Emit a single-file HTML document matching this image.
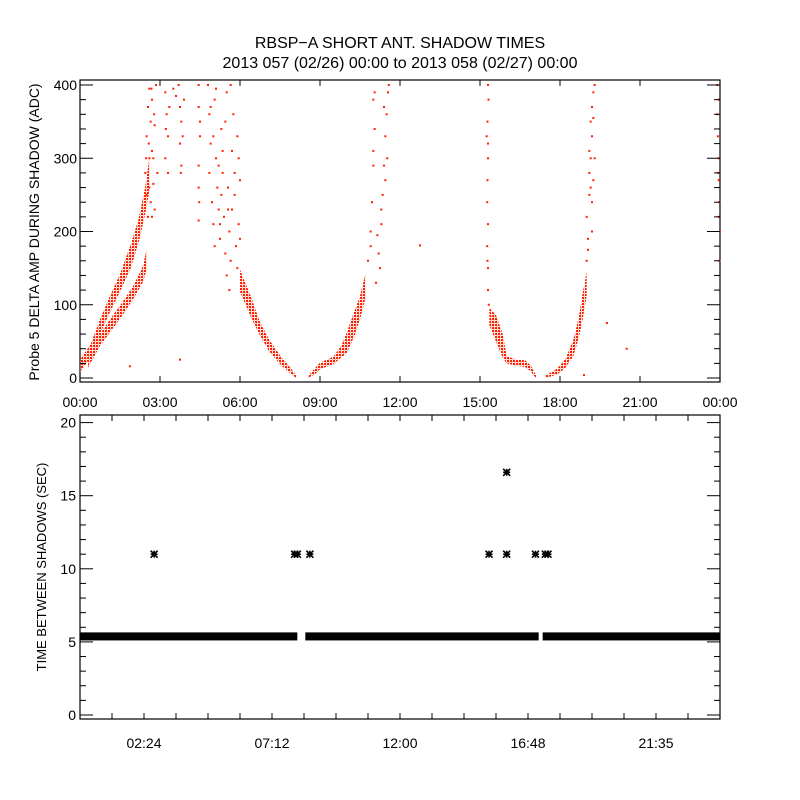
<!DOCTYPE html>
<html><head><meta charset="utf-8"><style>
html,body{margin:0;padding:0;background:#fff;}
svg{display:block;font-family:"Liberation Sans",sans-serif;}
text{fill:#000;}
</style></head><body>
<svg id="chart" width="800" height="800" viewBox="0 0 800 800">
<defs>
<pattern id="dots" width="3" height="3" patternUnits="userSpaceOnUse"><rect x="0" y="0" width="2" height="2" fill="#ff2000"/><rect x="1.5" y="1.5" width="1" height="1" fill="#ff2000"/></pattern>
</defs>
<g>
<text x="400" y="48" font-size="16" text-anchor="middle">RBSP−A SHORT ANT. SHADOW TIMES</text>
<text x="400" y="68" font-size="16" text-anchor="middle">2013 057 (02/26) 00:00 to 2013 058 (02/27) 00:00</text>
</g>
<g id="topPanel"></g>
<g id="botPanel"></g>
</svg>
<script>
// ---- top panel data (hours, ADC) ----
const bandUpper=[[0,8,25],[0.4,28,46],[0.75,60,80],[1.1,88,110],[1.5,118,142],[1.9,150,182],[2.2,185,218],[2.45,225,262],[2.6,255,300]];
const bandLower=[[0.3,14,28],[0.75,44,60],[1.2,66,84],[1.6,86,104],[2.0,108,126],[2.35,130,152],[2.5,148,176]];
const bandDesc=[[6.0,118,148],[6.4,84,112],[6.75,58,76],[7.1,36,52],[7.5,19,31],[7.8,9,18],[8.1,0,4]];
const bandRise=[[8.55,0,3],[8.8,5,13],[9.0,12,21],[9.5,19,29],[9.8,28,44],[10.0,34,62],[10.3,58,92],[10.5,80,112],[10.7,108,142]];
const bandRight=[[15.35,72,96],[15.6,50,86],[15.85,28,60],[16.0,20,30],[16.3,17,26],[16.7,15,24],[16.9,9,17],[17.1,0,4]];
const bandRight2=[[17.45,0,3],[17.9,5,13],[18.2,14,26],[18.5,30,52],[18.7,54,82],[18.85,80,116],[19.0,112,145]];
const scatterT=[2.45,2.5,2.55,2.6,2.65,2.7,2.75,2.8,2.5,2.6,2.7,2.85,2.55,2.65,2.75,2.8,2.9,2.6,2.7,2.58,2.48,2.68,2.78,
3.2,3.25,3.3,3.3,3.2,3.35,3.5,3.6,3.75,3.8,3.75,3.8,3.9,3.7,3.85,3.78,3.22,
4.45,4.45,4.5,4.45,4.45,4.45,4.5,4.47,
4.8,4.85,4.9,4.85,4.95,5.0,5.05,5.1,5.15,5.2,5.25,5.3,5.35,5.4,5.45,5.5,5.55,5.6,5.65,5.7,5.75,5.8,5.85,5.9,5.95,5.95,6.0,5.0,5.2,5.45,5.6,5.05,4.9,5.3,5.7,5.9,6.0,5.1,5.35,5.55,5.8,5.65,5.25,5.5,
10.8,10.9,10.95,11.0,11.05,11.05,11.0,11.1,11.2,11.3,11.35,11.4,11.45,11.5,11.55,11.58,11.25,11.3,11.45,10.9,11.0,11.15,11.4,11.52,
15.3,15.32,15.28,15.3,15.3,15.28,15.27,15.3,15.27,15.3,15.3,15.33,15.25,15.28,
19.0,19.05,19.0,19.1,19.1,19.15,19.2,19.15,19.2,19.25,19.3,19.2,19.25,19.2,19.3,19.1,19.25,19.05,19.15,
23.9,23.9,23.92,23.95,23.95,23.97,23.95,24,23.98,23.93,23.95,
12.75,19.76,20.5,18.9,3.75,1.87];
const scatterV=[280,330,370,395,350,310,265,230,250,300,380,400,220,240,300,345,280,260,220,320,300,395,360,
390,360,330,280,300,370,395,385,370,350,320,290,380,400,330,280,340,
400,370,330,290,260,215,350,240,
400,360,320,280,240,210,380,300,260,230,190,340,280,220,170,140,260,200,400,310,360,250,180,150,300,210,270,330,290,350,120,180,370,250,230,330,190,395,310,230,280,160,210,390,
160,200,240,290,340,390,380,130,170,210,250,290,330,360,390,400,150,230,270,180,310,195,370,300,
400,380,350,320,300,270,240,210,180,150,120,100,330,160,
160,190,220,250,280,300,330,350,370,390,400,240,270,200,300,310,355,175,260,
400,360,330,300,270,240,220,200,160,280,380,
181,75,40,4,25,16];
const topXTicks=[0,3,6,9,12,15,18,21,24];
const topXLabels=["00:00","03:00","06:00","09:00","12:00","15:00","18:00","21:00","00:00"];
const topYTicks=[0,100,200,300,400];
// ---- bottom panel data (hours, seconds) ----
const bandSegStart=[0,8.45,17.35];
const bandSegEnd=[8.15,17.2,24];
const bandValue=[5.4,5.4,5.4];
const starT=[2.78,8.05,8.15,8.62,15.34,16.0,16.0,17.08,17.45,17.55];
const starV=[11.0,11.0,11.0,11.0,11.0,16.6,11.0,11.0,11.0,11.0];
const botXLabelPos=[2.4,7.2,12,16.8,21.6];
const botXLabels=["02:24","07:12","12:00","16:48","21:35"];
const botYTicks=[0,5,10,15,20];

const NS="http://www.w3.org/2000/svg";
function mk(p,tag,at){const e=document.createElementNS(NS,tag);for(const k in at)e.setAttribute(k,at[k]);p.appendChild(e);return e;}
const X0=80,X1=720;
const xs=h=>X0+h*(X1-X0)/24;
const ty=v=>378-v*0.7325;
const by=v=>715-v*14.62;
const topG=document.getElementById('topPanel'),botG=document.getElementById('botPanel');

// top frame
let f=mk(topG,'rect',{x:80,y:80,width:640,height:302,fill:'none',stroke:'#000','stroke-width':1.2});


function band(arr,name){
  let pts=arr.map(d=>xs(d[0])+','+ty(d[2]));
  pts=pts.concat(arr.slice().reverse().map(d=>xs(d[0])+','+ty(d[1])));
  const p=mk(topG,'polygon',{points:pts.join(' '),fill:'url(#dots)'});
  
  
}
band(bandUpper,'band-upper-rise');band(bandLower,'band-lower-rise');band(bandDesc,'band-descent');
band(bandRise,'band-rise-0900');band(bandRight,'band-1500');band(bandRight2,'band-1800');
const nPts=Math.min(scatterT.length,scatterV.length);
for(let i=0;i<nPts;i++){
  const r=mk(topG,'rect',{x:xs(scatterT[i])-1,y:ty(scatterV[i])-1,width:2,height:2,fill:'#ff2000'});
  
  
}
// top axes ticks
topXTicks.forEach((h,i)=>{
  mk(topG,'line',{x1:xs(h),x2:xs(h),y1:382,y2:376,stroke:'#000'});
  mk(topG,'line',{x1:xs(h),x2:xs(h),y1:80,y2:86,stroke:'#000'});
  const t=mk(topG,'text',{x:xs(h),y:407,'font-size':14,'text-anchor':'middle'});
  t.textContent=topXLabels[i];
  
  
});
for(let v=0;v<=400;v+=20){
  const L=(v%100===0)?13:6;
  mk(topG,'line',{x1:80,x2:80+L,y1:ty(v),y2:ty(v),stroke:'#000'});
  mk(topG,'line',{x1:720,x2:720-L,y1:ty(v),y2:ty(v),stroke:'#000'});
}
topYTicks.forEach(v=>{
  const t=mk(topG,'text',{x:77,y:ty(v)+5,'font-size':14,'text-anchor':'end'});
  t.textContent=String(v);
  
  
});
let yl=mk(topG,'text',{x:0,y:0,'font-size':14,'text-anchor':'middle',transform:'translate(39,232) rotate(-90)'});
yl.textContent='Probe 5 DELTA AMP DURING SHADOW (ADC)';



// bottom frame
f=mk(botG,'rect',{x:80,y:415,width:640,height:304,fill:'none',stroke:'#000','stroke-width':1.2});


for(let i=0;i<bandSegStart.length;i++){
  const r=mk(botG,'rect',{x:xs(bandSegStart[i]),y:by(bandValue[i]+0.25),width:xs(bandSegEnd[i])-xs(bandSegStart[i]),height:by(bandValue[i]-0.3)-by(bandValue[i]+0.25),fill:'#000'});
  
  
}
for(let i=0;i<starT.length;i++){
  const cx=xs(starT[i]),cy=by(starV[i]),s=3.5;
  const g=mk(botG,'g',{stroke:'#000','stroke-width':1.6});
  
  
  mk(g,'line',{x1:cx-s,x2:cx+s,y1:cy,y2:cy});mk(g,'line',{x1:cx,x2:cx,y1:cy-s,y2:cy+s});
  mk(g,'line',{x1:cx-s,x2:cx+s,y1:cy-s,y2:cy+s});mk(g,'line',{x1:cx-s,x2:cx+s,y1:cy+s,y2:cy-s});
}
for(let k=1;k<20;k++){
  const h=k*1.2;
  mk(botG,'line',{x1:xs(h),x2:xs(h),y1:719,y2:713,stroke:'#000'});
  mk(botG,'line',{x1:xs(h),x2:xs(h),y1:415,y2:421,stroke:'#000'});
}
botXLabelPos.forEach((h,i)=>{
  const t=mk(botG,'text',{x:xs(h),y:748,'font-size':14,'text-anchor':'middle'});
  t.textContent=botXLabels[i];
  
  
});
for(let v=0;v<=20;v++){
  const L=(v%5===0)?13:6;
  mk(botG,'line',{x1:80,x2:80+L,y1:by(v),y2:by(v),stroke:'#000'});
  mk(botG,'line',{x1:720,x2:720-L,y1:by(v),y2:by(v),stroke:'#000'});
}
botYTicks.forEach(v=>{
  const t=mk(botG,'text',{x:76,y:by(v)+5,'font-size':14,'text-anchor':'end'});
  t.textContent=String(v);
  
  
});
yl=mk(botG,'text',{x:0,y:0,'font-size':13,'text-anchor':'middle',transform:'translate(46,567) rotate(-90)'});
yl.textContent='TIME BETWEEN SHADOWS (SEC)';


</script>
</body></html>
